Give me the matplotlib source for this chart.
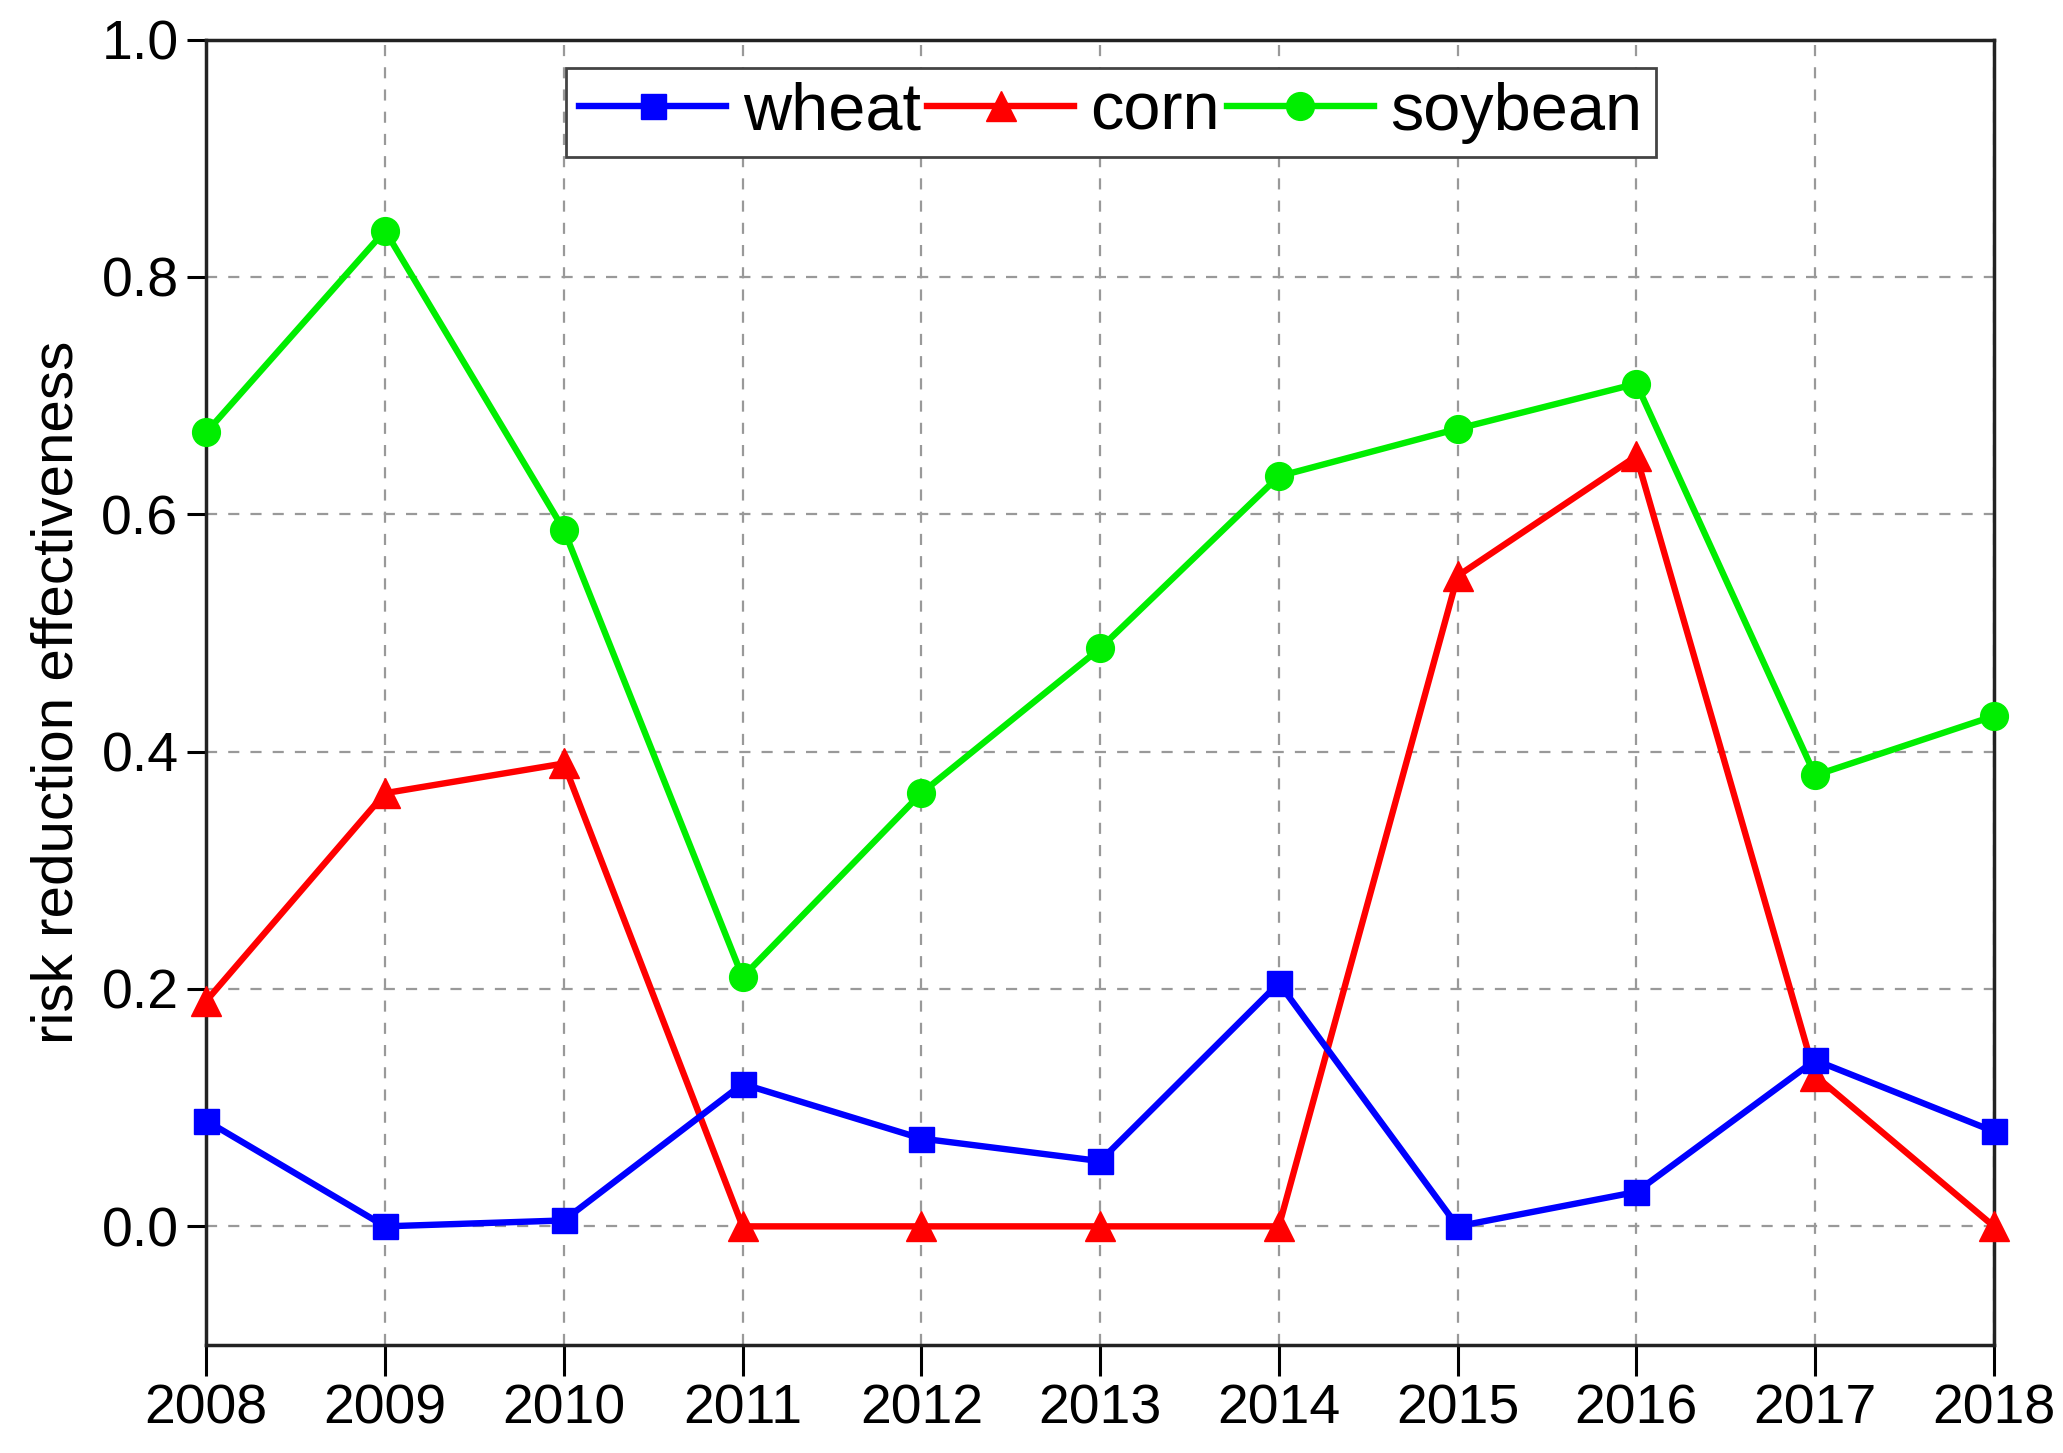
import matplotlib.pyplot as plt

plt.rcParams['font.family'] = ['Liberation Sans', 'DejaVu Sans']

# data
years = [2008, 2009, 2010, 2011, 2012, 2013, 2014, 2015, 2016, 2017, 2018]
wheat = [0.089, 0.0, 0.005, 0.12, 0.074, 0.055, 0.205, 0.0, 0.029, 0.14, 0.08]
corn = [0.19, 0.365, 0.39, 0.0, 0.0, 0.0, 0.0, 0.548, 0.649, 0.127, 0.0]
soybean = [0.669, 0.839, 0.587, 0.21, 0.365, 0.487, 0.632, 0.672, 0.71, 0.38, 0.43]
yticks = [0.0, 0.2, 0.4, 0.6, 0.8, 1.0]

fig = plt.figure(figsize=(20.63, 14.53), dpi=100)
ax = fig.add_axes([0.100, 0.0743, 0.8665, 0.8985])

lw = 4.6
ax.plot(years, wheat, color='#0000ff', lw=lw, marker='s', ms=18, label='wheat', clip_on=False, zorder=5)
ax.plot(years, corn, color='#ff0000', lw=lw, marker='^', ms=21, label='corn', clip_on=False, zorder=4)
ax.plot(years, soybean, color='#00ee00', lw=lw, marker='o', ms=20, label='soybean', clip_on=False, zorder=3)

ax.set_xlim(2008, 2018)
ax.set_ylim(-0.1, 1.0)
ax.set_xticks(years)
ax.set_yticks(yticks)
ax.set_yticklabels(['%.1f' % v for v in yticks])
ax.grid(True, color='#999999', linestyle=(0, (5, 5)), lw=1.6)
ax.set_axisbelow(True)

for s in ax.spines.values():
    s.set_linewidth(2.5)
    s.set_color('#222222')

ax.tick_params(axis='x', length=22, width=2.2, labelsize=40, pad=6, direction='out')
ax.tick_params(axis='y', length=14, width=2.2, labelsize=40, pad=6, direction='out')
ax.set_ylabel('risk reduction effectiveness', fontsize=42, labelpad=12)

leg = ax.legend(loc='upper center', bbox_to_anchor=(0.506, 0.978), ncol=3, fontsize=48,
                frameon=True, fancybox=False, edgecolor='#444444', framealpha=1,
                handlelength=2.2, handletextpad=0.25, columnspacing=0.1, borderpad=0.2,
                borderaxespad=0)
leg.get_frame().set_linewidth(2.0)

plt.savefig('out.png', dpi=100)
